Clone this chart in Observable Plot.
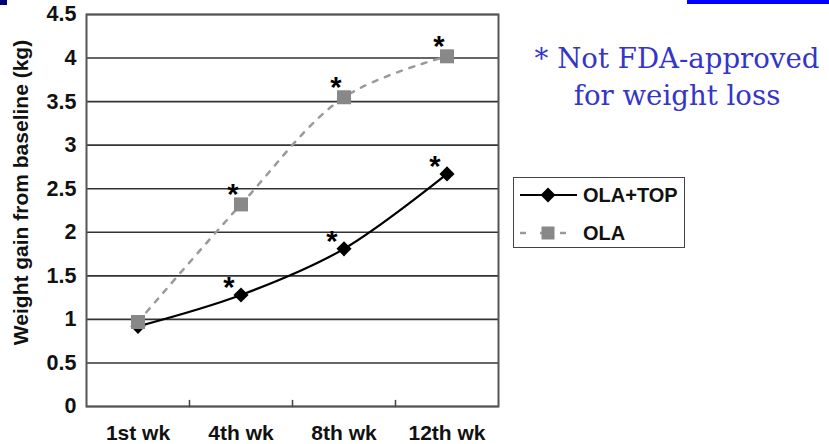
<!DOCTYPE html>
<html>
<head>
<meta charset="utf-8">
<script src="https://cdn.jsdelivr.net/npm/d3@7"></script>
<script src="https://cdn.jsdelivr.net/npm/@observablehq/plot@0.6"></script>
<style>
  html, body { margin: 0; padding: 0; background: #fff; }
  #wrap { position: relative; width: 829px; height: 444px; overflow: hidden; font-family: "Liberation Sans", Arial, sans-serif; }
  #chart { position: absolute; left: 0; top: 0; }
  .bar1 { position: absolute; left: 0; top: 0; width: 7px; height: 5px; background: #00007a; }
  .bar2 { position: absolute; left: 687px; top: 0; width: 142px; height: 4px; background: #0000ff; }
  #note { position: absolute; left: 520px; top: 40px; width: 314px; text-align: center;
          font-family: "DejaVu Serif", serif; font-size: 27.6px; line-height: 37px; color: #3535c8; }
  #legend { position: absolute; left: 513px; top: 177px; width: 172px; height: 71px;
            border: 1.5px solid #444; box-sizing: border-box; background: #fff; }
  #legend .row { position: absolute; left: 6px; height: 24px; display: flex; align-items: center; }
  #legend .row span { font-weight: bold; font-size: 20px; margin-left: 6px; color: #111; }
</style>
</head>
<body>
<div id="wrap">
  <div id="chart"></div>
  <div class="bar1"></div>
  <div class="bar2"></div>
  <div id="note">* Not FDA-approved<br>for weight loss</div>
  <div id="legend"></div>
</div>
<script>
// ---- data ----
const weeks = ["1st wk", "4th wk", "8th wk", "12th wk"];
const olaTop = [0.92, 1.28, 1.81, 2.67];
const ola = [0.97, 2.32, 3.55, 4.02];
const sigOlaTop = ["", "*", "*", "*"];
const sigOla = ["", "*", "*", "*"];
const yTicks = [0, 0.5, 1, 1.5, 2, 2.5, 3, 3.5, 4, 4.5];
const seriesNames = ["OLA+TOP", "OLA"];
const yLabel = "Weight gain from baseline (kg)";

// ---- table built from arrays ----
const rowsTop = weeks.map((w, i) => ({ x: i + 0.5, y: olaTop[i], sig: sigOlaTop[i] }));
const rowsOla = weeks.map((w, i) => ({ x: i + 0.5, y: ola[i], sig: sigOla[i] }));
const centers = weeks.map((w, i) => i + 0.5);
const bounds = weeks.slice(1).map((w, i) => i + 1);
const tickShape = { draw(ctx, l) { ctx.moveTo(0, 0); ctx.lineTo(0, -l); } };

const chart = Plot.plot({
  width: 829,
  height: 444,
  marginLeft: 86,
  marginRight: 331,
  marginTop: 14,
  marginBottom: 38,
  style: { fontFamily: "'Liberation Sans', Arial, sans-serif", fontWeight: "bold", background: "transparent", color: "#111" },
  x: { domain: [0, weeks.length] },
  y: { domain: [0, 4.5] },
  marks: [
    Plot.ruleY(yTicks, { stroke: "#333", strokeWidth: 1.6 }),
    Plot.frame({ stroke: "#555", strokeWidth: 2 }),
    Plot.vector(bounds, { x: d => d, y: () => 0, length: 6, rotate: 0, anchor: "start", shape: tickShape, stroke: "#444", strokeWidth: 1.5 }),
    Plot.axisY({ ticks: yTicks, tickSize: 0, tickPadding: 10, fontSize: 21.5, label: null, tickFormat: d3.format("") }),
    Plot.axisX({ ticks: centers, tickSize: 0, tickPadding: 19, fontSize: 21, label: null, tickFormat: d => weeks[Math.floor(d)] }),
    Plot.text([yLabel], { frameAnchor: "left", rotate: -90, dx: -73, dy: -18, lineAnchor: "top", textAnchor: "middle", fontSize: 21, fontWeight: "bold", text: d => d }),
    Plot.line(rowsTop, { x: "x", y: "y", curve: "catmull-rom", stroke: "#000", strokeWidth: 2.2 }),
    Plot.dot(rowsTop, { x: "x", y: "y", symbol: "diamond2", r: 6.8, fill: "#000", stroke: "none" }),
    Plot.line(rowsOla, { x: "x", y: "y", curve: "catmull-rom", stroke: "#9a9a9a", strokeWidth: 2.5, strokeDasharray: "5,8" }),
    Plot.dot(rowsOla, { x: "x", y: "y", symbol: "square", r: 7.9, fill: "#888", stroke: "none" }),
    Plot.text(rowsTop, { x: "x", y: "y", text: "sig", dx: -12, dy: -7, fontSize: 29, fontWeight: "bold", lineAnchor: "middle", fill: "#000" }),
    Plot.text(rowsOla, { x: "x", y: "y", text: "sig", dx: -8, dy: -10, fontSize: 29, fontWeight: "bold", lineAnchor: "middle", fill: "#000" })
  ]
});
document.getElementById("chart").appendChild(chart);

// ---- legend ----
const legend = document.getElementById("legend");
const sym = { "OLA+TOP": `<line x1="0" y1="8" x2="57" y2="8" stroke="#000" stroke-width="2.2"/><path d="M28,0.5 L35.5,8 L28,15.5 L20.5,8 Z" fill="#000"/>`,
              "OLA": `<line x1="0" y1="8" x2="57" y2="8" stroke="#9a9a9a" stroke-width="2.5" stroke-dasharray="6,14"/><rect x="21.5" y="1.5" width="13" height="13" fill="#888"/>` };
seriesNames.forEach((name, i) => {
  const row = document.createElement("div");
  row.className = "row";
  row.style.top = (i === 0 ? 5 : 43) + "px";
  row.innerHTML = `<svg width="57" height="16">${sym[name]}</svg><span>${name}</span>`;
  legend.appendChild(row);
});
</script>
</body>
</html>
